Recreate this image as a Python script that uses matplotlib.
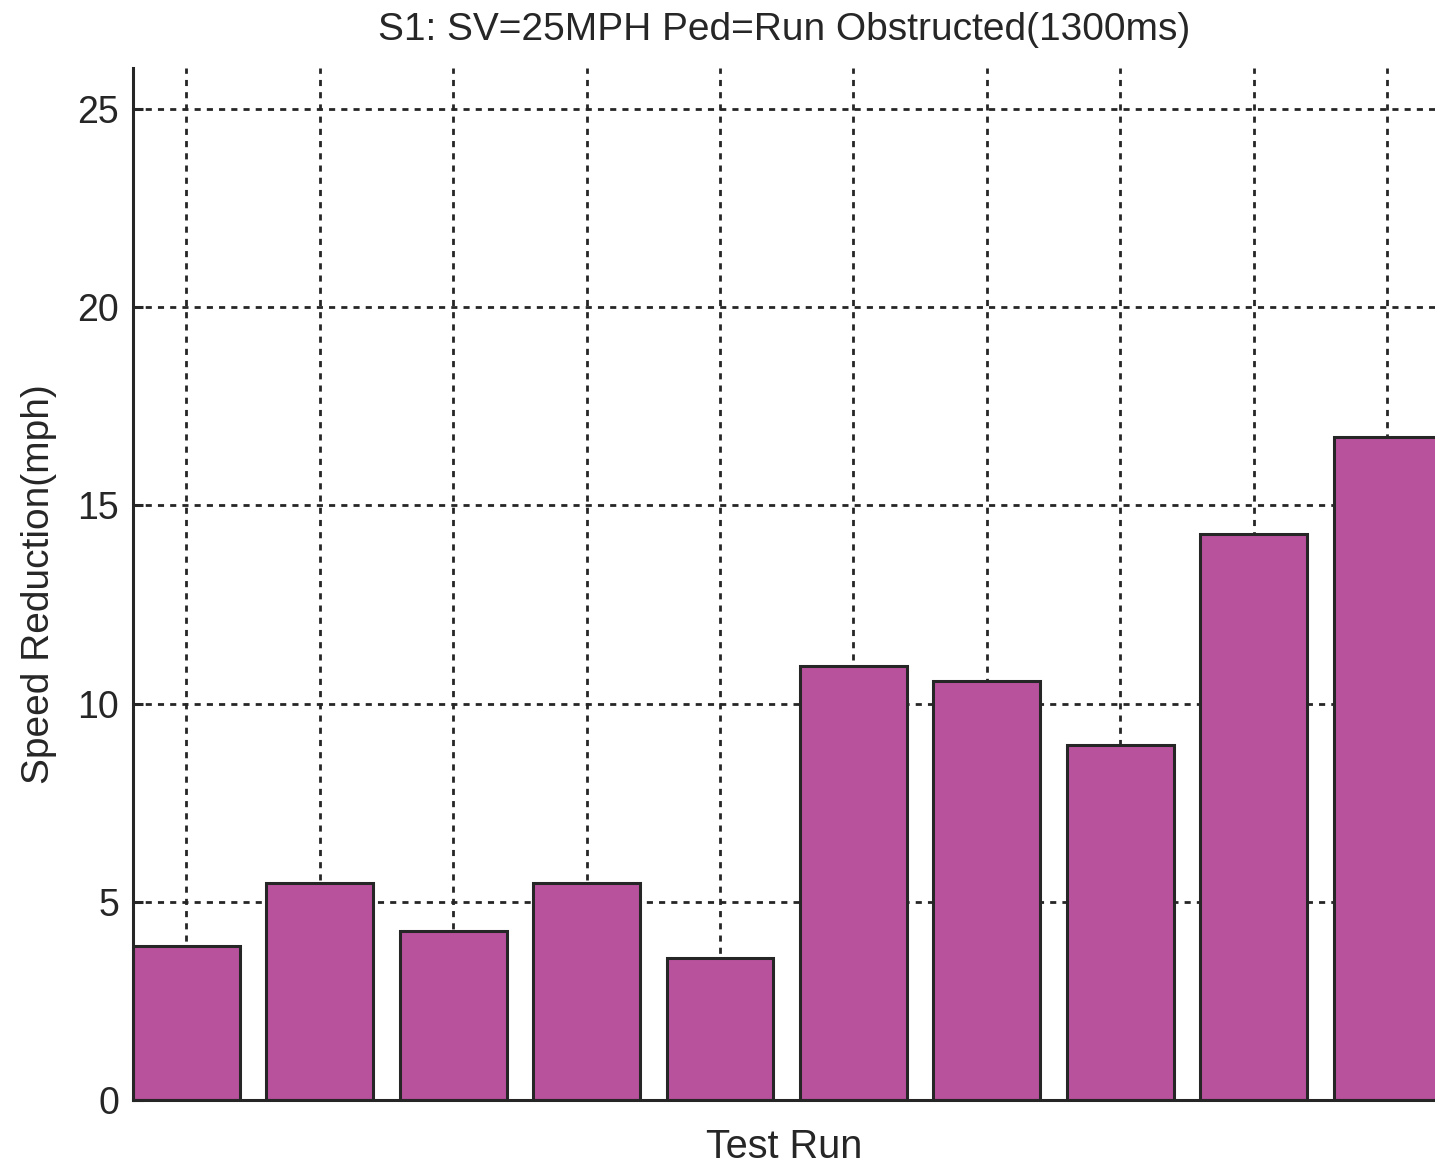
import matplotlib
matplotlib.use('Agg')
import matplotlib.pyplot as plt

runs = [1, 2, 3, 4, 5, 6, 7, 8, 9, 10]
speed_reduction = [3.88, 5.47, 4.26, 5.47, 3.58, 10.95, 10.57, 8.96, 14.28, 16.73]
yticks = [0, 5, 10, 15, 20, 25]

BAR = '#B8529D'
INK = '#262626'

plt.rcParams['font.family'] = ['Liberation Sans', 'DejaVu Sans']

fig = plt.figure(figsize=(14.35, 11.65), dpi=100)
ax = fig.add_axes([133 / 1435, 65 / 1165, 1 - 133 / 1435, 1032 / 1165])

ax.bar(runs, speed_reduction, width=0.8, color=BAR, edgecolor=INK, linewidth=2.2, zorder=3)

ax.set_xlim(0.6, 10.36)
ax.set_ylim(0, 26.03)
ax.set_xticks(runs)
ax.set_xticklabels([])
ax.set_yticks(yticks)

ax.grid(True, color=INK, linestyle=(0, (2.2, 2.2)), linewidth=2.0, zorder=1)
ax.set_axisbelow(True)

for s in ['top', 'right']:
    ax.spines[s].set_visible(False)
for s in ['left', 'bottom']:
    ax.spines[s].set_color(INK)
    ax.spines[s].set_linewidth(2.2)
    ax.spines[s].set_zorder(4)

ax.tick_params(axis='y', direction='in', length=7, width=2.2, color=INK,
               labelsize=27, labelcolor=INK, pad=10)
ax.tick_params(axis='x', length=0)

ax.set_title('S1: SV=25MPH Ped=Run Obstructed(1300ms)', fontsize=28, color=INK, pad=20)
ax.set_xlabel('Test Run', fontsize=28.5, color=INK, labelpad=17)
ax.set_ylabel('Speed Reduction(mph)', fontsize=28, color=INK, labelpad=15)

fig.savefig('out.png', dpi=100, facecolor='white')
